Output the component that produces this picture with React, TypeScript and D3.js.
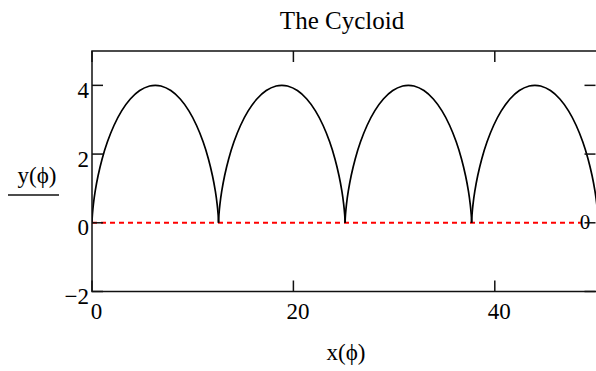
import React from 'react'
import * as d3 from 'd3'

// one arch of the cycloid (r = 2)
const archX = [0, 0.005, 0.041, 0.137, 0.317, 0.602, 1.005, 1.532, 2.181, 2.944, 3.803, 4.737, 5.718, 6.283,
    6.849, 7.829, 8.763, 9.622, 10.385, 11.034, 11.561, 11.964, 12.249, 12.429, 12.525, 12.561, 12.566]
const archY = [0, 0.062, 0.245, 0.537, 0.919, 1.369, 1.859, 2.356, 2.832, 3.256, 3.602, 3.849, 3.98, 4,
    3.98, 3.849, 3.602, 3.256, 2.832, 2.356, 1.859, 1.369, 0.919, 0.537, 0.245, 0.062, 0]
// where each arch starts on the x axis
const archStarts = [0, 12.566, 25.133, 37.699, 50.265]

const xTicks = [0, 20, 40]
const xTickLabels = ['0', '20', '40']
const yTicks = [-2, 0, 2, 4]
const yTickLabels = ['\u22122', '0', '2', '4']
const markerY = 0

const W = 596
const H = 371
const left = 92, right = 595.5, top = 51, bottom = 291.5
const font = '"Liberation Serif", "Times New Roman", serif'

const App = () => {
    const xScale = d3.scaleLinear().domain([0, 50]).range([left, right])
    const yScale = d3.scaleLinear().domain([-2, 5]).range([bottom, top])

    const line = d3.line<number>()
        .x(i => xScale(archX[i]))
        .y(i => yScale(archY[i]))
        .curve(d3.curveCatmullRom)

    const idx = archX.map((_, i) => i)
    const tick = 11

    return (
        <svg width={W} height={H} style={{ position: 'absolute', left: 0, top: 0, background: 'white' }}>
            <defs>
                <clipPath id="plot">
                    <rect x={left} y={top} width={right - left + 2} height={bottom - top} />
                </clipPath>
            </defs>

            <text x={342} y={28.5} textAnchor="middle" fontFamily={font} fontSize={25}>The Cycloid</text>

            {/* marker line at y = 0 */}
            <line x1={left} x2={581} y1={yScale(markerY)} y2={yScale(markerY)}
                stroke="#ff0000" strokeWidth={2} strokeDasharray="5,4" />
            <text x={585} y={yScale(markerY) + 6} textAnchor="middle" fontFamily={font} fontSize={21}>0</text>

            <g clipPath="url(#plot)">
                {archStarts.map(s => (
                    <path key={s} d={line(idx) || ''} transform={`translate(${xScale(s) - xScale(0)},0)`}
                        fill="none" stroke="black" strokeWidth={1.7} />
                ))}
            </g>

            {/* frame */}
            <rect x={left} y={top} width={right - left + 4} height={bottom - top}
                fill="none" stroke="#111" strokeWidth={1.5} />

            {xTicks.map((t, i) => (
                <g key={t}>
                    <line x1={xScale(t)} x2={xScale(t)} y1={bottom} y2={bottom - tick} stroke="#111" strokeWidth={1.5} />
                    <line x1={xScale(t)} x2={xScale(t)} y1={top} y2={top + tick} stroke="#111" strokeWidth={1.5} />
                    <text x={xScale(t) + 4.5} y={319} textAnchor="middle" fontFamily={font} fontSize={23}>{xTickLabels[i]}</text>
                </g>
            ))}
            {yTicks.map((t, i) => (
                <g key={t}>
                    <line x1={left} x2={left + tick} y1={yScale(t)} y2={yScale(t)} stroke="#111" strokeWidth={1.5} />
                    <line x1={right} x2={right - tick} y1={yScale(t)} y2={yScale(t)} stroke="#111" strokeWidth={1.5} />
                    <text x={89} y={yScale(t) + 12.5} textAnchor="end" fontFamily={font} fontSize={23}>{yTickLabels[i]}</text>
                </g>
            ))}

            <text x={37} y={183} textAnchor="middle" fontFamily={font} fontSize={23}>y(ϕ)</text>
            <line x1={8} x2={59} y1={195} y2={195} stroke="#111" strokeWidth={1.5} />
            <text x={346} y={360} textAnchor="middle" fontFamily={font} fontSize={23}>x(ϕ)</text>
        </svg>
    )
}

export default App
